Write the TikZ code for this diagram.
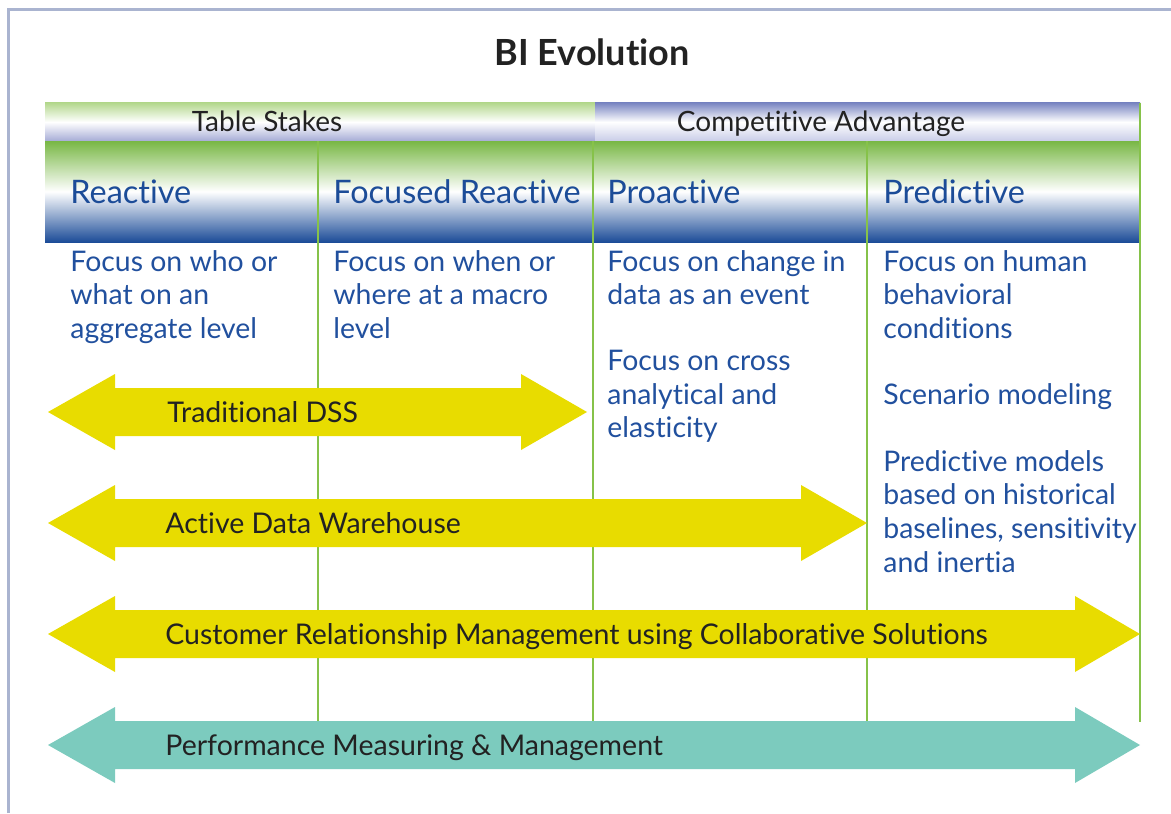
\documentclass[tikz,border=0pt]{standalone}
\usepackage{fontspec}
\setmainfont[Ligatures=NoCommon]{Lato}
\usepackage{tikz}

\definecolor{framegrey}{HTML}{AAB4D0}
\definecolor{darktext}{HTML}{222222}
\definecolor{textblue}{HTML}{21509E}
\definecolor{headblue}{HTML}{1C4C98}
\definecolor{headgreen}{HTML}{78B744}
\definecolor{stakegreen}{HTML}{B4D88E}
\definecolor{stakeblue}{HTML}{A6ACD6}
\definecolor{advblue}{HTML}{7A86C2}
\definecolor{advlight}{HTML}{C9CDE8}
\definecolor{colgreen}{HTML}{86C24A}
\definecolor{dssyellow}{HTML}{E8DC00}
\definecolor{pmteal}{HTML}{7CCBBE}

\begin{document}
\begin{tikzpicture}[x=0.5pt,y=-0.5pt]
\tikzstyle{every node}+=[inner sep=0pt]
\tikzstyle{colhead}=[anchor=base west, text=headblue, font=\fontsize{16.2}{18}\selectfont]
\tikzstyle{coltext}=[anchor=north west, align=left, text=textblue, font=\fontsize{14.2}{16.8}\selectfont]
\tikzstyle{bandtext}=[anchor=base, text=darktext, font=\fontsize{14}{16}\selectfont]
\tikzstyle{arrowtext}=[anchor=base west, text=darktext, font=\fontsize{14.25}{16}\selectfont]
\useasboundingbox (0,0) rectangle (1171,813);
% frame
\draw [framegrey, line width=1.5pt] (8,813) -- (8,10) -- (1171,10);
\node [anchor=base, text=darktext, font=\bfseries\fontsize{18}{20}\selectfont] (title) at (592,66) {BI Evolution};
% top bands
\shade [top color=stakegreen, bottom color=stakeblue, middle color=white] (45,103) rectangle (595,141);
\shade [top color=advblue, bottom color=advlight, middle color=white] (595,103) rectangle (1140,141);
\node [bandtext] (stakes) at (267,132) {Table Stakes};
\node [bandtext] (advantage) at (821,132) {Competitive Advantage};
% column heads
\shade [top color=headgreen, bottom color=headblue, middle color=white] (45,141) rectangle (1140,242);
\draw [colgreen, line width=0.8pt] (318,141) -- (318,722);
\draw [colgreen, line width=0.8pt] (593,141) -- (593,722);
\draw [colgreen, line width=0.8pt] (867,141) -- (867,722);
\draw [colgreen, line width=0.8pt] (1140,103) -- (1140,722);
\node [colhead] (reactive) at (70,203) {Reactive};
\node [colhead] (focused) at (333,203) {Focused Reactive};
\node [colhead] (proactive) at (607,203) {Proactive};
\node [colhead] (predictive) at (883,203) {Predictive};
% column texts
\node [coltext] (who) at (70,250) {Focus on who or\\what on an\\aggregate level};
\node [coltext] (when) at (333,250) {Focus on when or\\where at a macro\\level};
\node [coltext] (change) at (607,250) {Focus on change in\\data as an event};
\node [coltext] (cross) at (607,350) {Focus on cross\\analytical and\\elasticity};
\node [coltext] (human) at (883,250) {Focus on human\\behavioral\\conditions};
\node [coltext] (scenario) at (883,383) {Scenario modeling};
\node [coltext] (models) at (883,450) {Predictive models\\based on historical\\baselines, sensitivity\\and inertia};
% arrows
\fill [dssyellow] (48,412) -- (115,374) -- (115,388) -- (521,388) -- (521,374) -- (587,412) -- (521,450) -- (521,436) -- (115,436) -- (115,450) -- cycle;
\node [arrowtext] (dss) at (167,422) {Traditional DSS};
\fill [dssyellow] (48,523) -- (115,485) -- (115,499) -- (801,499) -- (801,485) -- (867,523) -- (801,561) -- (801,547) -- (115,547) -- (115,561) -- cycle;
\node [arrowtext] (adw) at (165,533) {Active Data Warehouse};
\fill [dssyellow] (48,634) -- (115,596) -- (115,610) -- (1075,610) -- (1075,596) -- (1140,634) -- (1075,672) -- (1075,658) -- (115,658) -- (115,672) -- cycle;
\node [arrowtext] (crm) at (165,644) {Customer Relationship Management using Collaborative Solutions};
\fill [pmteal] (48,745) -- (115,707) -- (115,721) -- (1075,721) -- (1075,707) -- (1140,745) -- (1075,783) -- (1075,769) -- (115,769) -- (115,783) -- cycle;
\node [arrowtext] (pm) at (165,755) {Performance Measuring \& Management};
\end{tikzpicture}
\end{document}
